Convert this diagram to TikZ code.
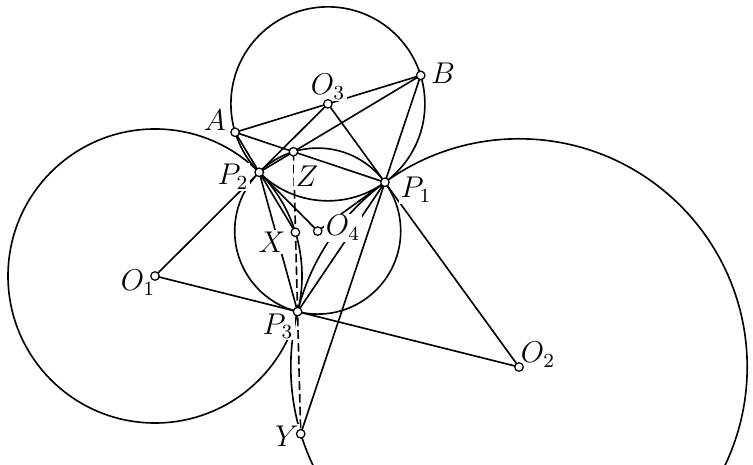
\documentclass[tikz,border=0pt]{standalone}
\begin{document}
\begin{tikzpicture}[x=0.4pt,y=-0.4pt,line width=0.65pt,
  dot/.style={circle,draw,fill=white,inner sep=0pt,minimum size=3.4pt,line width=0.5pt},
  lab/.style={fill=white,inner sep=0.6pt,font=\large}]
\useasboundingbox (0,0) rectangle (753,465);
\clip (0,0) rectangle (753,465);
\coordinate (O1) at (155,276);
\coordinate (O2) at (519,367);
\coordinate (O3) at (327.9,103.85);
\coordinate (O4) at (317.7,231.1);
\coordinate (P1) at (384.9,182.3);
\coordinate (P2) at (259.2,172.3);
\coordinate (P3) at (297.6,311.65);
\coordinate (A) at (235.1,132.3);
\coordinate (B) at (420.7,75.4);
\coordinate (X) at (295.4,232.3);
\coordinate (Y) at (300.7,433.8);
\coordinate (Z) at (intersection of A--P1 and B--P2);
% circles
\draw (O1) circle [radius=147];
\draw (O2) circle [radius=228.2];
\draw (O3) circle [radius=97];
\draw (O4) circle [radius=83];
% lines
\draw (O1) -- (O3);
\draw (O2) -- (O3);
\draw (O1) -- (O2);
\draw (A) -- (B);
\draw (A) -- (P1);
\draw (B) -- (P2);
\draw (B) -- (Y);
\draw (A) -- (X);
\draw (P2) -- (P3);
\draw (P1) -- (P3);
\draw (P2) -- (O4);
\draw (P1) -- (O4);
\draw[dash pattern=on 3.5pt off 1.6pt] (Z) -- (Y);
% labels
\node[lab] (lA) at (215,120) {$A$};
\node[lab] (lB) at (443,73) {$B$};
\node[lab] (lO3) at (328,87) {$O_3$};
\node[lab] (lP2) at (233,177) {$P_2$};
\node[lab] (lZ) at (307,176) {$Z$};
\node[lab] (lP1) at (416,190) {$P_1$};
\node[lab] (lX) at (272,242) {$X$};
\node[lab] (lO4) at (343,228) {$O_4$};
\node[lab] (lO1) at (138,283) {$O_1$};
\node[lab] (lP3) at (278,326) {$P_3$};
\node[lab] (lO2) at (538,355) {$O_2$};
\node[lab] (lY) at (287,436) {$Y$};
% dots
\foreach \p in {O1,O2,O3,O4,P1,P2,P3,A,B,X,Y,Z}
  \node[dot] (d\p) at (\p) {};
\end{tikzpicture}
\end{document}
